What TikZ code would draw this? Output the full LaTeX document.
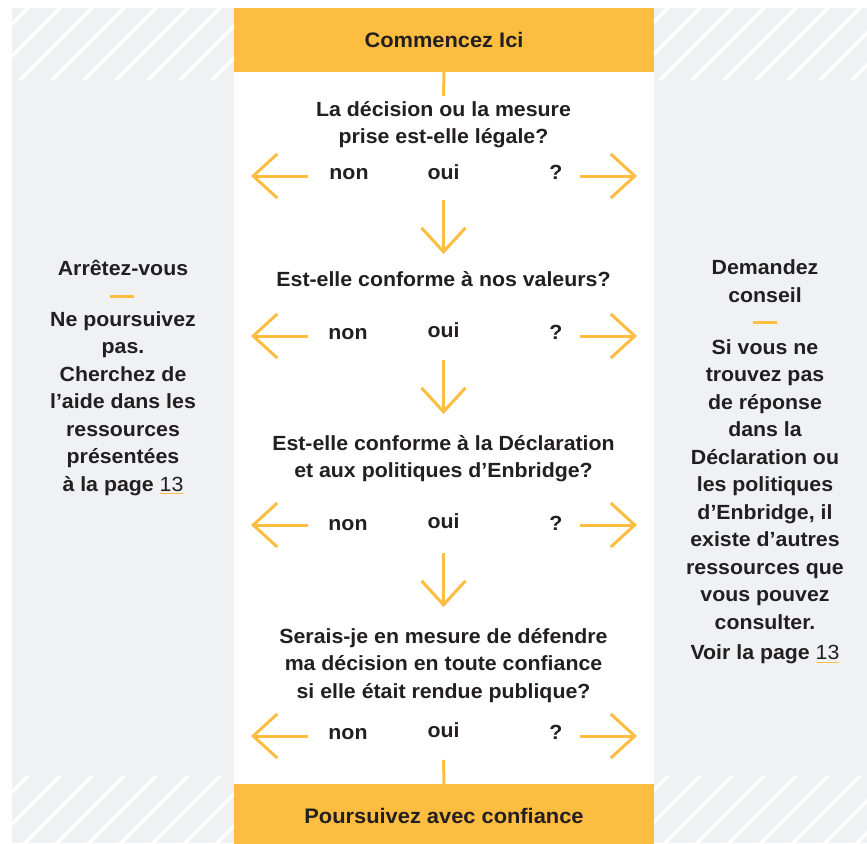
\documentclass[tikz,border=0pt]{standalone}
\usepackage{fontspec}
\setmainfont{Liberation Sans}[FakeStretch=1.04]
\usetikzlibrary{arrows.meta}
\definecolor{ylw}{HTML}{FDBD40}
\definecolor{bgg}{HTML}{F0F1F3}
\definecolor{ink}{HTML}{231F20}
\newcommand\pgref[1]{\setbox0\hbox{\mdseries #1}\rlap{\color{ylw}\rule[-3pt]{\wd0}{1.2pt}}\box0}
\newcommand\fs{\rule{0pt}{19pt}}
\begin{document}
\begin{tikzpicture}[x=1pt,y=-1pt,
  txt/.style={text=ink, font=\bfseries\fontsize{20.5}{27.5}\selectfont, align=center, inner sep=0pt, anchor=north},
  lbl/.style={text=ink, font=\bfseries\fontsize{20.5}{24}\selectfont, inner sep=0pt, anchor=base},
  arr/.style={draw=ylw, line width=3pt, -{Straight Barb[length=24pt, width=44pt]}},
  conn/.style={draw=ylw, line width=3pt},
  box/.style={fill=ylw, text=ink, font=\bfseries\fontsize{21}{25}\selectfont, minimum width=420pt, minimum height=64pt, inner sep=0pt},
  hatch/.style={white, line width=3.2pt}]
\useasboundingbox (0,0) rectangle (867,843);
\fill[white] (0,0) rectangle (867,843);
\fill[bgg] (12,8) rectangle (867,843);
\begin{scope}
  \clip (12,8) rectangle (234,80) (654,8) rectangle (867,80) (12,776) rectangle (234,843) (654,776) rectangle (867,843);
  \foreach \c in {4,36,...,1764} \draw[hatch] (\c,0) -- (\c-900,900);
\end{scope}
\fill[white] (234,8) rectangle (654,843);

% boxes
\node[box] (start) at (444,40) {Commencez Ici};
\node[box] (finish) at (444,816) {Poursuivez avec confiance};

% questions
\node[txt] (q1) at (443.5,97) {\fs La décision ou la mesure\\prise est-elle légale?};
\node[txt] (q2) at (443.5,267) {\fs Est-elle conforme à nos valeurs?};
\node[txt] (q3) at (443.5,431) {\fs Est-elle conforme à la Déclaration\\et aux politiques d’Enbridge?};
\node[txt] (q4) at (443.5,624) {\fs Serais-je en mesure de défendre\\ma décision en toute confiance\\si elle était rendue publique?};

% answer labels
\node[lbl] (n1) at (349,179) {non};
\node[lbl] (o1) at (443.5,179) {oui};
\node[lbl] (x1) at (556,179) {?};
\node[lbl] (n2) at (348,339) {non};
\node[lbl] (o2) at (443.5,337) {oui};
\node[lbl] (x2) at (556,339) {?};
\node[lbl] (n3) at (348,530) {non};
\node[lbl] (o3) at (443.5,528) {oui};
\node[lbl] (x3) at (556,530) {?};
\node[lbl] (n4) at (348,739) {non};
\node[lbl] (o4) at (443.5,737) {oui};
\node[lbl] (x4) at (556,739) {?};

% side texts
\node[txt] (stop) at (123,256) {\fs Arrêtez-vous};
\coordinate (sd1) at (110,296);
\coordinate (sd2) at (134,296);
\draw[conn] (sd1) -- (sd2);
\node[txt] (stopb) at (123,307) {\fs Ne poursuivez\\pas.\\Cherchez de\\l’aide dans les\\ressources\\présentées\\à la page \pgref{13}};

\node[txt] (ask) at (765,255.5) {\fs Demandez\\conseil};
\coordinate (ad1) at (753,322);
\coordinate (ad2) at (777,322);
\draw[conn] (ad1) -- (ad2);
\node[txt] (askb) at (765,335) {\fs Si vous ne\\trouvez pas\\de réponse\\dans la\\Déclaration ou\\les politiques\\d’Enbridge, il\\existe d’autres\\ressources que\\vous pouvez\\consulter.\\[3pt]Voir la page \pgref{13}};

% connectors
\coordinate (c0) at (443.5,96);
\draw[conn] (start.south) -- (c0);
\coordinate (c5) at (443.5,760);
\draw[conn] (c5) -- (finish.north);

% side arrows
\foreach \r/\y in {1/176,2/336,3/525,4/736}{
  \coordinate (ls\r) at (308,\y);
  \coordinate (le\r) at (251,\y);
  \coordinate (rs\r) at (580,\y);
  \coordinate (re\r) at (637,\y);
  \draw[arr] (ls\r) -- (le\r);
  \draw[arr] (rs\r) -- (re\r);
}
% down arrows
\foreach \r/\a/\b in {1/200/254,2/360/414,3/553/607}{
  \coordinate (ds\r) at (443.5,\a);
  \coordinate (de\r) at (443.5,\b);
  \draw[arr] (ds\r) -- (de\r);
}
\end{tikzpicture}
\end{document}
